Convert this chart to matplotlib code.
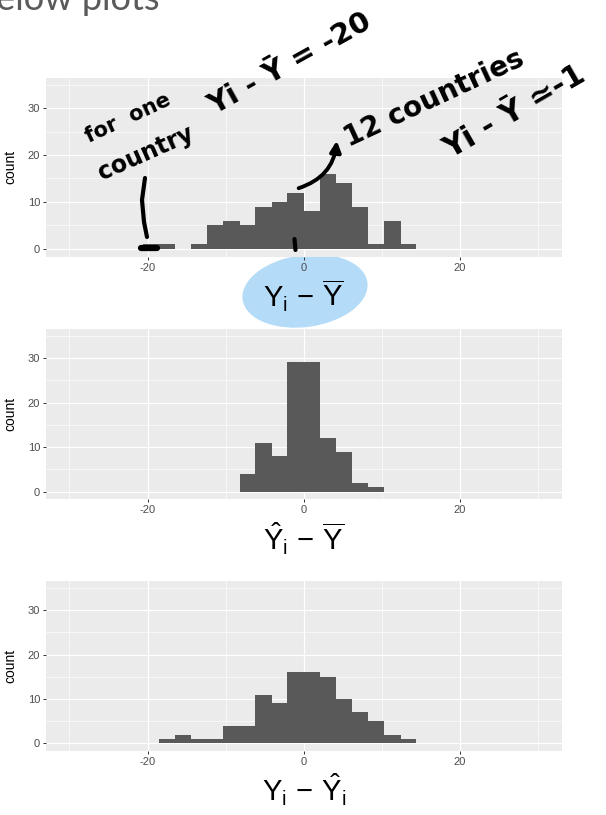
import matplotlib
matplotlib.use('Agg')
import matplotlib.pyplot as plt
from matplotlib.patches import Ellipse

plt.rcParams['mathtext.fontset'] = 'custom'
plt.rcParams['mathtext.rm'] = 'Liberation Sans'
plt.rcParams['mathtext.it'] = 'Liberation Sans'
plt.rcParams['mathtext.bf'] = 'Liberation Sans:bold'
plt.rcParams['font.family'] = ['Liberation Sans', 'DejaVu Sans']
plt.rcParams['axes.unicode_minus'] = False

# histogram bins shared by the three panels
bin_edges = [-20.6, -18.5, -16.5, -14.4, -12.4, -10.3, -8.2, -6.2, -4.1, -2.1,
             0.0, 2.1, 4.1, 6.2, 8.2, 10.3, 12.4, 14.4]
counts_dev = [1, 1, 0, 1, 5, 6, 5, 9, 10, 12, 8, 16, 14, 9, 1, 6, 1]    # Y_i - Ybar
counts_fit = [0, 0, 0, 0, 0, 0, 4, 11, 8, 29, 29, 12, 9, 2, 1, 0, 0]    # Yhat_i - Ybar
counts_res = [0, 1, 2, 1, 1, 4, 4, 11, 9, 16, 16, 15, 10, 7, 5, 2, 1]   # Y_i - Yhat_i

x_ticks = [-20, 0, 20]
x_minor = [-30, -10, 10, 30]
y_ticks = [0, 10, 20, 30]
y_minor = [5, 15, 25, 35]
x_labels = [r'$Y_i\,-\,\overline{Y}$', r'$\hat{Y}_i\,-\,\overline{Y}$', r'$Y_i\,-\,\hat{Y}_i$']

W, H = 606, 815
fig = plt.figure(figsize=(W / 100, H / 100), dpi=100)


def px_axes(left, top, right, bottom, **kw):
    return fig.add_axes([left / W, 1 - bottom / H, (right - left) / W, (bottom - top) / H], **kw)


panels = [(77.8, 256.7), (329.0, 499.3), (581.3, 751.0)]
all_counts = [counts_dev, counts_fit, counts_res]

# blue highlight blob under the first x label
under = px_axes(0, 0, W, H, zorder=-1)
under.set_xlim(0, W)
under.set_ylim(H, 0)
under.axis('off')
under.add_patch(Ellipse((305, 291), 126, 72, angle=-8, color='#b4dbf8', lw=0))

lefts = bin_edges[:-1]
widths = [b - a for a, b in zip(bin_edges[:-1], bin_edges[1:])]

for (top, bottom), counts, lab in zip(panels, all_counts, x_labels):
    ax = px_axes(46, top, 561.7, bottom)
    ax.set_facecolor('#ebebeb')
    ax.bar(lefts, counts, width=widths, align='edge', color='#595959', lw=0, zorder=3)
    ax.set_xlim(-33, 33)
    ax.set_ylim(-1.7, 36.5)
    ax.set_xticks(x_ticks)
    ax.set_xticklabels([str(t) for t in x_ticks])
    ax.set_xticks(x_minor, minor=True)
    ax.set_yticks(y_ticks)
    ax.set_yticks(y_minor, minor=True)
    ax.grid(True, which='major', color='white', lw=0.9, zorder=1)
    ax.grid(True, which='minor', color='white', lw=0.45, zorder=1)
    ax.set_axisbelow(True)
    for s in ax.spines.values():
        s.set_visible(False)
    ax.tick_params(which='major', length=2.2, width=0.7, color='#333333',
                   labelsize=8, labelcolor='#4d4d4d', pad=2)
    ax.tick_params(which='minor', length=0)
    ax.set_ylabel('count', fontsize=10, color='black')
    ax.yaxis.set_label_coords(-29 / 515.7, 0.5)
    ax.set_xlabel(lab, fontsize=21, color='black')
    ax.xaxis.set_label_coords(0.5, -21 / (bottom - top))
    ax.xaxis.label.set_va('top')

# gray slide title, cut by the top edge
fig.text(160 / W, 1 - 10 / H, 'Below plots', fontsize=26, color='#5a5a5a',
         family='Lato', ha='right', va='baseline')

# handwritten notes on top
over = px_axes(0, 0, W, H, zorder=10)
over.set_xlim(0, W)
over.set_ylim(H, 0)
over.axis('off')
over.patch.set_alpha(0)

hand = dict(color='black', fontweight='bold', family='DejaVu Sans',
            ha='center', va='center', rotation_mode='anchor')
over.text(128, 118, 'for  one', fontsize=15, rotation=25, **hand)
over.text(146, 153, 'country', fontsize=17, rotation=24, **hand)
over.text(290, 64, 'Yi - Ȳ = -20', fontsize=21, rotation=29, **hand)
over.text(434, 98, '12 countries', fontsize=20, rotation=25, **hand)
over.text(515, 112, 'Yi - Ȳ ≃-1', fontsize=22, rotation=30, **hand)

over.plot([145, 142, 144, 147], [178, 200, 222, 237], color='black', lw=3,
          solid_capstyle='round')
over.plot([141, 157], [248, 248], color='black', lw=4.5, solid_capstyle='round')
over.plot([294.5, 295.5], [239, 250], color='black', lw=3, solid_capstyle='round')
over.annotate('', xy=(337, 138), xytext=(296, 189),
              arrowprops=dict(arrowstyle='-|>', color='black', lw=2.8,
                              mutation_scale=16,
                              connectionstyle='arc3,rad=0.35'))

fig.savefig('out.png', dpi=100)
